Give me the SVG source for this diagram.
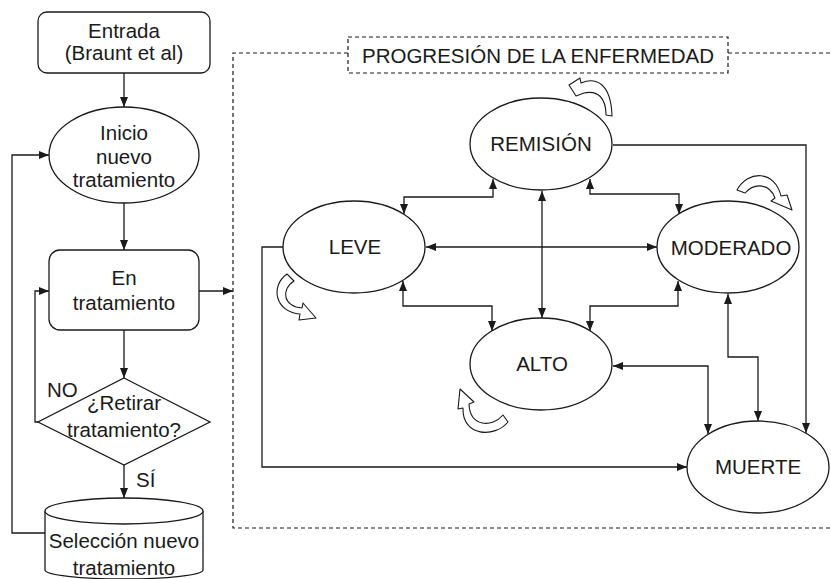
<svg xmlns="http://www.w3.org/2000/svg" width="831" height="579" viewBox="0 0 831 579">
<style>
.s{fill:#fff;stroke:#1a1a1a;stroke-width:1.3}
.c{fill:none;stroke:#1a1a1a;stroke-width:1.3}
.d{fill:none;stroke:#1a1a1a;stroke-width:1.2;stroke-dasharray:4 3}
.t{font-family:"Liberation Sans",Arial,sans-serif;font-size:20.5px;fill:#1a1a1a;text-anchor:middle}
.l{font-family:"Liberation Sans",Arial,sans-serif;font-size:20.5px;fill:#1a1a1a}
.a{marker-end:url(#ah)}
.b{marker-start:url(#ah);marker-end:url(#ah)}
.cu{fill:#fff;stroke:#1a1a1a;stroke-width:1.1;stroke-linejoin:round}
</style>
<defs>
<marker id="ah" markerWidth="10" markerHeight="10" refX="10" refY="5" orient="auto-start-reverse" markerUnits="userSpaceOnUse">
<path d="M0,1 L10,5 L0,9 Z" fill="#1a1a1a"/>
</marker>
</defs>
<rect width="831" height="579" fill="#fff"/>

<g id="container">
<path class="d" d="M348,53 H233 V528 H831 M728,53 H831"/>
<rect class="d" x="348" y="37" width="380" height="36" fill="#fff"/>
<text class="t" x="538" y="63">PROGRESIÓN DE LA ENFERMEDAD</text>
</g>

<g id="connectors">
<path class="c a" d="M124,73 V107"/>
<path class="c a" d="M124,203 V250"/>
<path class="c a" d="M124,330 V378"/>
<path class="c a" d="M124,464 V498"/>
<path class="c a" d="M45,533 H12 V155 H49"/>
<path class="c a" d="M38,422 H35 V291 H49"/>
<path class="c a" d="M199,291 H233"/>
<path class="c b" d="M404,214 V197 H493 V179"/>
<path class="c b" d="M590,179 V194 H679 V214"/>
<path class="c b" d="M542,191 V318"/>
<path class="c b" d="M426,247 H657"/>
<path class="c b" d="M403,281 V306 H492 V331"/>
<path class="c b" d="M678,281 V306 H590 V331"/>
<path class="c b" d="M728,294 V357 H758 V421"/>
<path class="c b" d="M613,366 H708 V434"/>
<path class="c a" d="M613,145 H806 V433"/>
<path class="c a" d="M284,247 H262 V467 H687"/>
</g>

<g id="entrada">
<rect class="s" x="38" y="12" width="172" height="61" rx="9"/>
<text class="t" x="124" y="38">Entrada</text>
<text class="t" x="124" y="60">(Braunt et al)</text>
</g>

<g id="inicio">
<ellipse class="s" cx="124" cy="155" rx="75" ry="48"/>
<text class="t" x="124" y="140">Inicio</text>
<text class="t" x="124" y="164">nuevo</text>
<text class="t" x="124" y="187">tratamiento</text>
</g>

<g id="en-tratamiento">
<rect class="s" x="49" y="250" width="150" height="80" rx="11"/>
<text class="t" x="124" y="285">En</text>
<text class="t" x="124" y="310">tratamiento</text>
</g>

<g id="retirar">
<path class="s" d="M124,378 L210,422 L124,465 L38,422 Z"/>
<text class="t" x="124" y="410">¿Retirar</text>
<text class="t" x="124" y="437">tratamiento?</text>
<text class="l" x="47" y="397">NO</text>
<text class="l" x="136" y="487">SÍ</text>
</g>

<g id="seleccion">
<path class="s" d="M45,511 V570 A79,9 0 0 0 203,570 V511"/>
<ellipse class="s" cx="124" cy="511" rx="79" ry="13"/>
<text class="t" x="124" y="548">Selección nuevo</text>
<text class="t" x="124" y="575">tratamiento</text>
</g>

<g id="remision">
<ellipse class="s" cx="541" cy="144" rx="71" ry="46"/>
<text class="t" x="541" y="151">REMISIÓN</text>
<path class="cu" d="M569,85 L580,78 L581,83 C595,77 611,82 612,116 L606,115 C606,98 598,90 584,93 L576,96 Z"/>
</g>

<g id="leve">
<ellipse class="s" cx="354" cy="247" rx="71" ry="46"/>
<text class="t" x="355" y="254">LEVE</text>
<path class="cu" d="M287,274 C270,286 275,312 300,314 L299,320 L316,318 L303,303 L302,308 C284,307 280,290 294,281 Z"/>
</g>

<g id="moderado">
<ellipse class="s" cx="728" cy="247" rx="71" ry="46"/>
<text class="t" x="731" y="255">MODERADO</text>
<path class="cu" d="M737,190 C748,170 775,170 781,196 L787,195 L792,210 L771,201 L775,198 C770,184 755,182 745,193 Z"/>
</g>

<g id="alto">
<ellipse class="s" cx="541" cy="364" rx="71" ry="46"/>
<text class="t" x="542" y="371">ALTO</text>
<path class="cu" d="M508,422 C495,438 462,437 463,408 L458,409 L460,389 L474,402 L469,404 C470,427 492,428 503,415 Z"/>
</g>

<g id="muerte">
<ellipse class="s" cx="758" cy="467" rx="71" ry="46"/>
<text class="t" x="758" y="474">MUERTE</text>
</g>
</svg>
